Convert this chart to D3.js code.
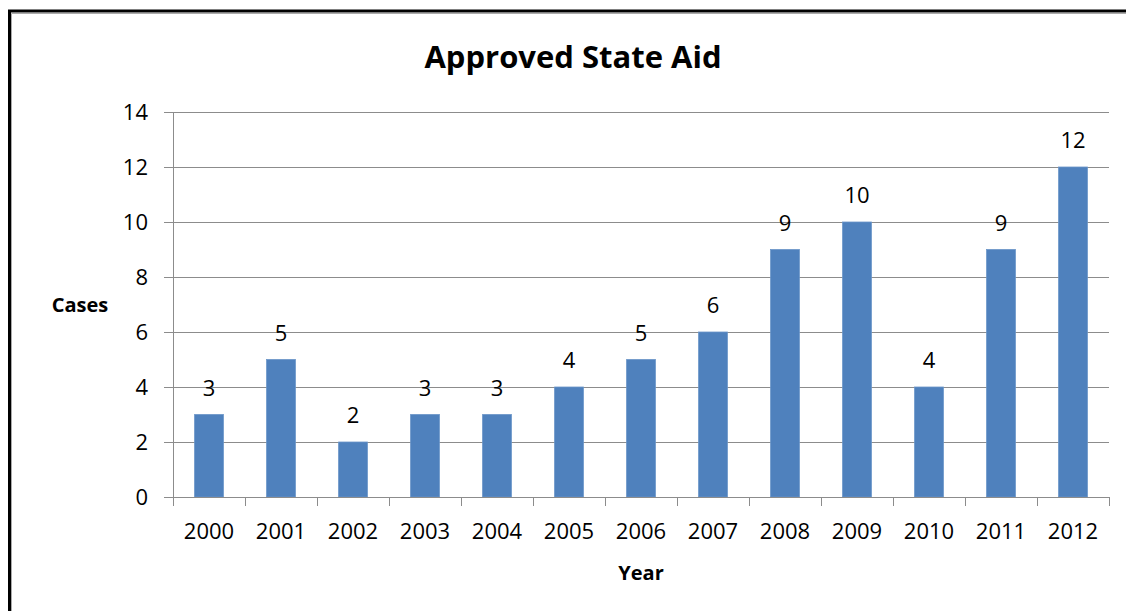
<!DOCTYPE html>
<html>
<head>
<meta charset="utf-8">
<script src="https://cdn.jsdelivr.net/npm/d3@7"></script>
<style>
  body { margin: 0; background: #fff; }
  text { font-family: "Open Sans", "Noto Sans", sans-serif; fill: #000; }
</style>
</head>
<body>
<div id="chart"></div>
<script>
var years = ["2000", "2001", "2002", "2003", "2004", "2005", "2006", "2007", "2008", "2009", "2010", "2011", "2012"];
var cases = [3, 5, 2, 3, 3, 4, 5, 6, 9, 10, 4, 9, 12];
var yTicks = [0, 2, 4, 6, 8, 10, 12, 14];

var W = 1126, H = 611;
var margin = {top: 112, right: 17, bottom: 114, left: 173},
    width = W - margin.left - margin.right,
    height = H - margin.top - margin.bottom;

var root = d3.select("#chart")
  .append("svg")
    .attr("width", W)
    .attr("height", H);

// outer frame (runs off the right and bottom)
root.append("rect")
  .attr("x", 9.5).attr("y", 11)
  .attr("width", W + 20).attr("height", H + 20)
  .attr("fill", "none").attr("stroke", "#000").attr("stroke-width", 3);
root.append("path")
  .attr("d", "M11.5," + (H + 5) + "V13.5H" + (W + 5))
  .attr("fill", "none").attr("stroke", "#aaa").attr("stroke-width", 1);

var svg = root.append("g")
  .attr("transform", "translate(" + margin.left + "," + margin.top + ")");

var x = d3.scaleBand()
  .domain(years)
  .range([0, width])
  .paddingInner(0.6)
  .paddingOuter(0.3);

var y = d3.scaleLinear()
  .domain([0, 14])
  .range([height, 0]);

// gridlines
svg.append("g")
  .selectAll("line")
  .data(yTicks.filter(function(d) { return d > 0; }))
  .enter()
  .append("line")
    .attr("x1", 0).attr("x2", width)
    .attr("y1", function(d) { return Math.round(y(d)) + 0.5; })
    .attr("y2", function(d) { return Math.round(y(d)) + 0.5; })
    .attr("stroke", "#8c8c8c")
    .attr("stroke-width", 1);

// bars
svg.selectAll("rect.bar")
  .data(cases)
  .enter()
  .append("rect")
    .attr("class", "bar")
    .attr("x", function(d, i) { return x(years[i]); })
    .attr("y", function(d) { return y(d); })
    .attr("width", x.bandwidth())
    .attr("height", function(d) { return height - y(d); })
    .attr("fill", "#4f81bd")
    .attr("stroke", "#6a95c8")
    .attr("stroke-width", 0.8);

// value labels
svg.selectAll("text.val")
  .data(cases)
  .enter()
  .append("text")
    .attr("class", "val")
    .attr("x", function(d, i) { return x(years[i]) + x.bandwidth() / 2; })
    .attr("y", function(d) { return y(d) - 19; })
    .attr("text-anchor", "middle")
    .style("font-size", "22px")
    .text(function(d) { return d; });

// y axis
var yAxis = svg.append("g")
  .call(d3.axisLeft(y).tickValues(yTicks).tickSize(9).tickPadding(16));
yAxis.select(".domain").attr("stroke", "#8c8c8c").attr("d", "M0.5,0V" + height);
yAxis.selectAll(".tick line").attr("stroke", "#8c8c8c");
yAxis.selectAll(".tick text").style("font-size", "22px").attr("fill", "#000");

// x axis with ticks between categories
var bandStep = width / years.length;
var xb = svg.append("g")
  .attr("transform", "translate(0," + height + ")");
xb.append("line")
  .attr("x1", -9).attr("x2", width)
  .attr("y1", 0.5).attr("y2", 0.5)
  .attr("stroke", "#8c8c8c");
xb.selectAll("line.tk")
  .data(d3.range(years.length + 1))
  .enter()
  .append("line")
    .attr("class", "tk")
    .attr("x1", function(i) { return Math.round(i * bandStep) + 0.5; })
    .attr("x2", function(i) { return Math.round(i * bandStep) + 0.5; })
    .attr("y1", 0).attr("y2", 9)
    .attr("stroke", "#8c8c8c");
xb.selectAll("text")
  .data(years)
  .enter()
  .append("text")
    .attr("x", function(d) { return x(d) + x.bandwidth() / 2; })
    .attr("y", 42)
    .attr("text-anchor", "middle")
    .style("font-size", "22px")
    .text(function(d) { return d; });

// titles
root.append("text")
  .attr("x", 573).attr("y", 68)
  .attr("text-anchor", "middle")
  .style("font-size", "31px").style("font-weight", "bold")
  .text("Approved State Aid");

root.append("text")
  .attr("x", 80).attr("y", 312)
  .attr("text-anchor", "middle")
  .style("font-size", "20px").style("font-weight", "bold")
  .text("Cases");

root.append("text")
  .attr("x", margin.left + width / 2).attr("y", 580)
  .attr("text-anchor", "middle")
  .style("font-size", "20px").style("font-weight", "bold")
  .text("Year");
</script>
</body>
</html>
